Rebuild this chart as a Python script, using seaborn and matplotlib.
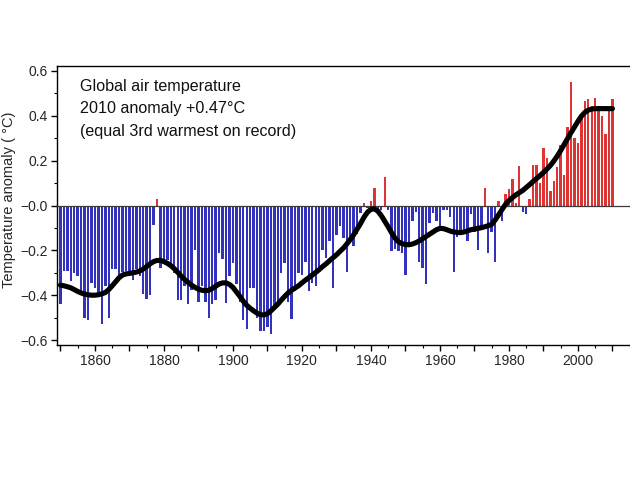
import numpy as np
import pandas as pd
import matplotlib
matplotlib.use("Agg")
import matplotlib.pyplot as plt
import seaborn as sns
from matplotlib.ticker import MultipleLocator, FixedLocator

years = list(range(1850, 2011))

anomaly = [
    # 1850-1859
    -0.44, -0.29, -0.29, -0.335, -0.30, -0.315, -0.38, -0.50, -0.51, -0.345,
    # 1860-1869
    -0.37, -0.41, -0.53, -0.36, -0.50, -0.285, -0.285, -0.315, -0.295, -0.29,
    # 1870-1879
    -0.31, -0.33, -0.285, -0.315, -0.395, -0.415, -0.40, -0.088, 0.03, -0.28,
    # 1880-1889
    -0.256, -0.245, -0.26, -0.30, -0.42, -0.42, -0.36, -0.44, -0.375, -0.20,
    # 1890-1899
    -0.43, -0.36, -0.43, -0.50, -0.44, -0.42, -0.21, -0.24, -0.435, -0.315,
    # 1900-1909
    -0.255, -0.35, -0.43, -0.51, -0.55, -0.37, -0.37, -0.50, -0.56, -0.56,
    # 1910-1919
    -0.54, -0.575, -0.46, -0.43, -0.30, -0.255, -0.43, -0.505, -0.38, -0.30,
    # 1920-1929
    -0.31, -0.25, -0.38, -0.345, -0.36, -0.28, -0.20, -0.235, -0.16, -0.37,
    # 1930-1939
    -0.13, -0.09, -0.145, -0.295, -0.15, -0.18, -0.125, -0.035, 0.01, -0.01,
    # 1940-1949
    0.02, 0.08, -0.02, -0.02, 0.125, -0.02, -0.205, -0.195, -0.205, -0.21,
    # 1950-1959
    -0.31, -0.18, -0.07, -0.03, -0.25, -0.28, -0.35, -0.08, -0.035, -0.07,
    # 1960-1969
    -0.115, -0.02, -0.02, -0.05, -0.295, -0.14, -0.11, -0.12, -0.16, -0.04,
    # 1970-1979
    -0.12, -0.20, -0.09, 0.08, -0.21, -0.12, -0.25, 0.02, -0.07, 0.05,
    # 1980-1989
    0.075, 0.12, 0.01, 0.175, -0.03, -0.04, 0.03, 0.18, 0.18, 0.10,
    # 1990-1999
    0.255, 0.21, 0.065, 0.11, 0.17, 0.27, 0.135, 0.35, 0.55, 0.30,
    # 2000-2010
    0.28, 0.405, 0.465, 0.475, 0.445, 0.48, 0.435, 0.40, 0.32, 0.44, 0.475,
]

smoothed = [
    # 1850-1859
    -0.355, -0.358, -0.362, -0.367, -0.375, -0.383, -0.390, -0.395, -0.398, -0.400,
    # 1860-1869
    -0.400, -0.398, -0.394, -0.388, -0.375, -0.358, -0.340, -0.322, -0.310, -0.305,
    # 1870-1879
    -0.303, -0.300, -0.297, -0.292, -0.283, -0.272, -0.260, -0.250, -0.245, -0.245,
    # 1880-1889
    -0.250, -0.258, -0.268, -0.282, -0.298, -0.315, -0.330, -0.343, -0.355, -0.365,
    # 1890-1899
    -0.373, -0.378, -0.380, -0.378, -0.370, -0.360, -0.350, -0.345, -0.345, -0.352,
    # 1900-1909
    -0.365, -0.385, -0.405, -0.427, -0.445, -0.458, -0.470, -0.480, -0.487, -0.488,
    # 1910-1919
    -0.482, -0.470, -0.455, -0.440, -0.422, -0.405, -0.390, -0.378, -0.368, -0.358,
    # 1920-1929
    -0.345, -0.333, -0.322, -0.310, -0.298, -0.286, -0.272, -0.260, -0.246, -0.233,
    # 1930-1939
    -0.220, -0.205, -0.190, -0.172, -0.152, -0.130, -0.105, -0.080, -0.052, -0.030,
    # 1940-1949
    -0.017, -0.015, -0.025, -0.045, -0.070, -0.095, -0.122, -0.146, -0.162, -0.170,
    # 1950-1959
    -0.174, -0.175, -0.172, -0.166, -0.158, -0.148, -0.138, -0.128, -0.118, -0.108,
    # 1960-1969
    -0.102, -0.103, -0.108, -0.114, -0.118, -0.120, -0.121, -0.118, -0.113, -0.108,
    # 1970-1979
    -0.105, -0.102, -0.099, -0.095, -0.090, -0.084, -0.065, -0.042, -0.018, 0.005,
    # 1980-1989
    0.022, 0.035, 0.047, 0.057, 0.067, 0.080, 0.093, 0.107, 0.120, 0.133,
    # 1990-1999
    0.147, 0.162, 0.178, 0.198, 0.220, 0.245, 0.272, 0.300, 0.325, 0.350,
    # 2000-2010
    0.375, 0.398, 0.415, 0.425, 0.430, 0.432, 0.432, 0.432, 0.432, 0.432, 0.432,
]

xtick_labels = ["1860", "1880", "1900", "1920", "1940", "1960", "1980", "2000"]
ytick_values = [-0.6, -0.4, -0.2, 0.0, 0.2, 0.4, 0.6]
ytick_labels = ["\u22120.6", "\u22120.4", "\u22120.2", "\u22120.0", "0.2", "0.4", "0.6"]
annotation_lines = ["Global air temperature",
                    "2010 anomaly +0.47\u00b0C",
                    "(equal 3rd warmest on record)"]

sns.set_theme(style="ticks")
plt.rcParams["font.family"] = ["Liberation Sans", "DejaVu Sans"]

df = pd.DataFrame({"year": years, "anomaly": anomaly})
df["sign"] = np.where(df["anomaly"] >= 0, "pos", "neg")
sm = pd.DataFrame({"year": years, "smooth": smoothed})

fig = plt.figure(figsize=(6.30, 4.91), dpi=100)
ax = fig.add_axes([57 / 630, 1 - 345 / 491, 1 - 57 / 630, (345 - 66) / 491])

sns.barplot(data=df, x="year", y="anomaly", hue="sign",
            palette={"neg": "#3232bd", "pos": "#de3434"},
            native_scale=True, dodge=False, width=0.7, legend=False,
            linewidth=0, saturation=1, ax=ax)
ax.axhline(0, color="#3a3a3a", lw=0.9, zorder=3)
sns.lineplot(data=sm, x="year", y="smooth", color="black", lw=3.7,
             solid_capstyle="round", ax=ax, zorder=4)

ax.set_xlim(1849.0, 2015.1)
ax.set_ylim(-0.622, 0.622)

xt = list(range(1850, 2016, 10))
ax.xaxis.set_major_locator(FixedLocator(xt))
ax.xaxis.set_minor_locator(MultipleLocator(5))
ax.set_xticklabels([str(y) if str(y) in xtick_labels else "" for y in xt])
ax.set_yticks(ytick_values)
ax.set_yticklabels(ytick_labels)
ax.yaxis.set_minor_locator(MultipleLocator(0.1))

ax.tick_params(axis="both", which="major", direction="out", length=4.5, width=1,
               labelsize=10, color="black", pad=2)
ax.tick_params(axis="both", which="minor", direction="out", length=2.5, width=0.8,
               color="black")
ax.set_xlabel("")
ax.set_ylabel("")

for side in ["left", "bottom", "top"]:
    ax.spines[side].set_visible(True)
    ax.spines[side].set_color("black")
    ax.spines[side].set_linewidth(1.0)
ax.spines["right"].set_visible(False)

for line, yfrac in zip(annotation_lines, [0.925, 0.846, 0.767]):
    ax.text(0.040, yfrac, line, transform=ax.transAxes, fontsize=11.6,
            ha="left", va="center", color="#111111")

fig.text(9 / 630, 1 - 200 / 491, "Temperature anomaly ( \u00b0C)", rotation=90,
         ha="center", va="center", fontsize=10.5)

fig.savefig("out.png", dpi=100, facecolor="white")
